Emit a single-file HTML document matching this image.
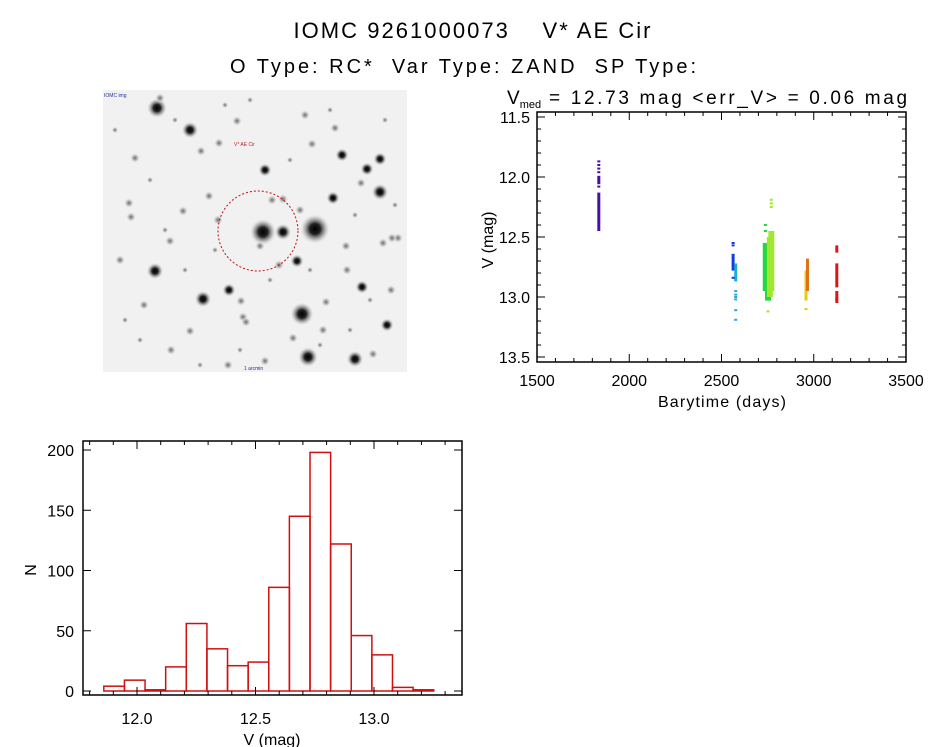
<!DOCTYPE html>
<html><head><meta charset="utf-8">
<style>
html,body{margin:0;padding:0;background:#fff;}
svg{display:block;font-family:"Liberation Sans",sans-serif;}
text{fill:#000;}
</style></head>
<body>
<svg id="fig" width="944" height="747" viewBox="0 0 944 747">
<defs>
<radialGradient id="star"><stop offset="0" stop-color="#000"/><stop offset="0.35" stop-color="#222"/><stop offset="0.7" stop-color="#999" stop-opacity="0.6"/><stop offset="1" stop-color="#f2f2f2" stop-opacity="0"/></radialGradient>
<radialGradient id="starf"><stop offset="0" stop-color="#666"/><stop offset="0.5" stop-color="#aaa" stop-opacity="0.7"/><stop offset="1" stop-color="#f2f2f2" stop-opacity="0"/></radialGradient>
</defs>
<text x="472" y="38" font-size="22" text-anchor="middle" textLength="357" lengthAdjust="spacing" xml:space="preserve">IOMC 9261000073    V* AE Cir</text>
<text x="463" y="73" font-size="20" text-anchor="middle" textLength="466" lengthAdjust="spacing" xml:space="preserve">O Type: RC*  Var Type: ZAND  SP Type:</text>
<g id="img">
<rect x="103" y="90" width="304" height="282" fill="#f1f1f1"/>
<text x="104" y="97" font-size="5" style="fill:#2030a0">IOMC img</text>
<text x="234" y="146" font-size="5" style="fill:#c02020">V* AE Cir</text>
<text x="244" y="370" font-size="5" style="fill:#2030a0">1 arcmin</text>
<circle cx="258" cy="231" r="40" fill="none" stroke="#c01010" stroke-width="1" stroke-dasharray="2,2"/>
</g>
<g id="lc">
<text x="507" y="104" font-size="19" xml:space="preserve">V<tspan font-size="11" dy="4">med</tspan><tspan dy="-4" textLength="366" lengthAdjust="spacing"> = 12.73 mag &lt;err_V&gt; = 0.06 mag</tspan></text>
<text x="722" y="407" font-size="16" text-anchor="middle" textLength="128" lengthAdjust="spacing">Barytime (days)</text>
<text transform="translate(493,240) rotate(-90)" font-size="16" text-anchor="middle">V (mag)</text>
</g>
<g id="hist">
<text x="272" y="745" font-size="16" text-anchor="middle">V (mag)</text>
<text transform="translate(36,570) rotate(-90)" font-size="16" text-anchor="middle">N</text>
</g>
</svg>
<script>
const NS='http://www.w3.org/2000/svg';
// ---- sky image stars (pixel positions of image features) ----
const starX=[157,190,315,263,283,302,308,355,380,367,380,342,265,155,203,229,333,362,387,297,305,135,312,293,228,129,183,219,243,279,346,398,120,171,246,283,237,335,373,392,160,209,265,300,326,361,144,190,241,170,218,260,347,383,131,201,391,323,272,115,150,175,225,250,290,330,355,395,140,185,215,270,320,370,125,165,200,240,310,350,385];
const starY=[108,130,229,232,232,314,357,359,192,169,159,155,170,271,299,290,198,287,325,261,115,158,144,338,365,203,211,143,317,265,246,238,260,350,322,199,121,128,354,238,98,196,361,210,302,183,305,331,301,241,220,246,270,243,217,151,290,330,200,130,180,120,105,100,160,110,215,205,340,270,250,280,345,300,320,230,365,350,270,330,120];
const starR=[6,5,9,8,5,7,6,5,5,4,4,4,4,5,5,4,4,4,4,4,3,3,3,3,3,3,3,3,3,3,3,3,3,3,3,3,3,3,3,3,3,3,3,3,3,3,3,3,3,3,3,3,3,3,3,3,3,3,3,2,2,2,2,2,2,2,2,2,2,2,2,2,2,2,2,2,2,2,2,2,2];
const img=document.getElementById('img');
const circ=img.querySelector('circle');
for(let i=0;i<starX.length;i++){
  const c=document.createElementNS(NS,'circle');
  c.setAttribute('cx',starX[i]);c.setAttribute('cy',starY[i]);
  c.setAttribute('r',starR[i]*(starR[i]>=4?1.7:1.7));
  c.setAttribute('fill',starR[i]>=4?'url(#star)':'url(#starf)');
  
  
  img.insertBefore(c,circ);
}
function line(g,x1,y1,x2,y2,name,w){const l=document.createElementNS(NS,'line');
  l.setAttribute('x1',x1);l.setAttribute('y1',y1);l.setAttribute('x2',x2);l.setAttribute('y2',y2);
  l.setAttribute('stroke','#000');l.setAttribute('stroke-width',w||1);
  
  
  g.appendChild(l);return l;}
function txt(g,x,y,s,anchor,name){const t=document.createElementNS(NS,'text');
  t.setAttribute('x',x);t.setAttribute('y',y);t.setAttribute('font-size','16');t.setAttribute('text-anchor',anchor);t.textContent=s;
  
  
  g.appendChild(t);}

// ---- light curve data ----
const lcTimeTicks=[1500,2000,2500,3000,3500];
const lcTickLabels=['1500','2000','2500','3000','3500'];
const lcMagTicks=[11.5,12.0,12.5,13.0,13.5];
const lcMagLabels=['11.5','12.0','12.5','13.0','13.5'];
const segColors=['#4a10a0','#1040d8','#20a8e0','#20d840','#a0e830','#e8c818','#e07010','#d81818'];
// dense segments: time, mag start, mag end, colour index
const segT=[1835,1835,2563,2577,2740,2752,2762,2770,2958,2966,3125,3125,3125];
const segM1=[12.13,11.99,12.64,12.72,12.55,12.6,12.5,12.45,12.78,12.68,12.72,12.57,12.95];
const segM2=[12.45,12.06,12.78,12.87,12.95,13.03,13.0,12.95,13.03,12.95,12.92,12.63,13.05];
const segC=[0,0,1,2,3,3,4,4,5,6,7,7,7];
// individual points
const ptT=[1835,1835,1835,1835,1835,2563,2563,2563,2577,2577,2577,2577,2577,2577,2738,2738,2770,2770,2770,2752,2958,3125];
const ptM=[11.87,11.9,11.93,11.96,12.08,12.55,12.57,12.84,12.95,12.98,13.0,13.02,13.11,13.19,12.4,12.45,12.19,12.22,12.25,13.12,13.1,13.02];
const ptC=[0,0,0,0,0,1,1,1,2,2,2,2,2,2,3,3,4,4,4,4,5,7];
const LX0=537,LX1=906,LY0=112,LY1=362;
const lx=t=>LX0+(t-1500)/(3500-1500)*(LX1-LX0);
const ly=m=>117+(m-11.5)/2*240;
const lc=document.getElementById('lc');
for(let i=0;i<segT.length;i++){
  const r=document.createElementNS(NS,'rect');
  const w=(segT[i]>2700&&segT[i]<2800)?6:3;
  r.setAttribute('x',lx(segT[i])-w/2);r.setAttribute('y',ly(segM1[i]));
  r.setAttribute('width',w);r.setAttribute('height',ly(segM2[i])-ly(segM1[i]));
  r.setAttribute('fill',segColors[segC[i]]);
  
  
  lc.appendChild(r);
}
for(let i=0;i<ptT.length;i++){
  const r=document.createElementNS(NS,'rect');
  r.setAttribute('x',lx(ptT[i])-1.5);r.setAttribute('y',ly(ptM[i])-1);
  r.setAttribute('width',3);r.setAttribute('height',2);
  r.setAttribute('fill',segColors[ptC[i]]);
  
  
  lc.appendChild(r);
}
const fr=document.createElementNS(NS,'rect');
fr.setAttribute('x',LX0);fr.setAttribute('y',LY0);fr.setAttribute('width',LX1-LX0);fr.setAttribute('height',LY1-LY0);
fr.setAttribute('fill','none');fr.setAttribute('stroke','#000');fr.setAttribute('stroke-width','1.5');


lc.appendChild(fr);
for(let t=1500;t<=3500;t+=100){const x=lx(t),L=(t%500===0)?8:4;
  line(lc,x,LY1,x,LY1-L,'x-tick');line(lc,x,LY0,x,LY0+L,'x-tick');}
for(let k=0;k<=20;k++){const m=11.5+k*0.1,y=ly(m),L=(k%5===0)?8:4;
  line(lc,LX0,y,LX0+L,y,'y-tick');line(lc,LX1,y,LX1-L,y,'y-tick');}
lcTimeTicks.forEach((t,i)=>txt(lc,lx(t),386,lcTickLabels[i],'middle','x-tick-label'));
lcMagTicks.forEach((m,i)=>txt(lc,530,ly(m)+6,lcMagLabels[i],'end','y-tick-label'));

// ---- histogram data ----
const binStart=[11.86,11.947,12.034,12.121,12.208,12.295,12.382,12.469,12.556,12.643,12.73,12.817,12.904,12.991,13.078,13.165];
const binCounts=[4,9,1,20,56,35,21,24,86,145,198,122,46,30,3,1];
const binWidth=0.087;
const hMagTicks=[12.0,12.5,13.0];
const hMagLabels=['12.0','12.5','13.0'];
const hCountTicks=[0,50,100,150,200];
const hCountLabels=['0','50','100','150','200'];
const HX0=83,HX1=462,HY0=441,HY1=695;
const hx=m=>137+(m-12.0)/0.5*118.5;
const hy=n=>691-n/200*241;
const hg=document.getElementById('hist');
for(let i=0;i<binCounts.length;i++){
  const r=document.createElementNS(NS,'rect');
  r.setAttribute('x',hx(binStart[i]));r.setAttribute('y',hy(binCounts[i]));
  r.setAttribute('width',hx(binStart[i]+binWidth)-hx(binStart[i]));r.setAttribute('height',hy(0)-hy(binCounts[i]));
  r.setAttribute('fill','none');r.setAttribute('stroke','#d01010');r.setAttribute('stroke-width','1.5');
  
  
  hg.appendChild(r);
}
const hf=document.createElementNS(NS,'rect');
hf.setAttribute('x',HX0);hf.setAttribute('y',HY0);hf.setAttribute('width',HX1-HX0);hf.setAttribute('height',HY1-HY0);
hf.setAttribute('fill','none');hf.setAttribute('stroke','#000');hf.setAttribute('stroke-width','1.5');


hg.appendChild(hf);
for(let k=0;k<=15;k++){const m=11.8+k*0.1;const x=hx(m);if(x<HX0||x>HX1)continue;const L=(Math.abs(m*2-Math.round(m*2))<1e-6)?8:4;
  line(hg,x,HY1,x,HY1-L,'hist-x-tick');line(hg,x,HY0,x,HY0+L,'hist-x-tick');}
hCountTicks.forEach((n,i)=>{const y=hy(n);line(hg,HX0,y,HX0+8,y,'hist-y-tick');line(hg,HX1,y,HX1-8,y,'hist-y-tick');
  txt(hg,74,y+6,hCountLabels[i],'end','hist-y-tick-label');});
hMagTicks.forEach((m,i)=>txt(hg,hx(m),724,hMagLabels[i],'middle','hist-x-tick-label'));
</script>
</body></html>
